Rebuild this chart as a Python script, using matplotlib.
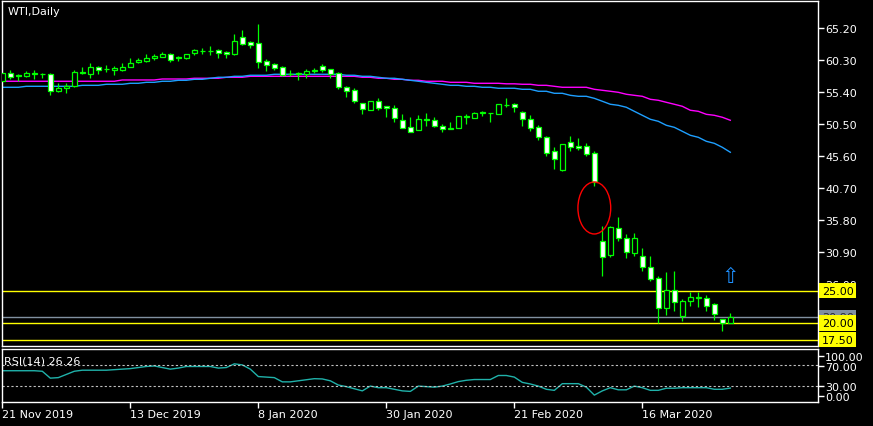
import matplotlib
matplotlib.use('Agg')
import matplotlib.pyplot as plt
from matplotlib.patches import Ellipse

# daily WTI candles, 21 Nov 2019 .. 31 Mar 2020 (one entry per trading day)
opens = [
    57.13, 58.31, 58.00, 57.80, 58.11, 58.23, 58.11, 55.51, 55.97, 56.27,
    58.31, 58.20, 59.18, 58.87, 58.77, 58.77, 59.27, 59.95, 60.15, 60.56,
    60.80, 61.22, 60.71, 60.65, 61.33, 61.63, 61.68, 61.83, 61.48, 61.26,
    63.78, 63.06, 62.90, 60.15, 59.69, 59.18, 58.16, 58.26, 58.20, 58.66,
    59.33, 58.92, 58.31, 56.12, 55.66, 53.67, 52.69, 53.98, 53.21, 52.90,
    51.07, 49.99, 49.53, 51.19, 51.07, 50.15, 49.78, 49.93, 51.62, 51.46,
    52.21, 52.14, 52.08, 53.42, 53.52, 52.29, 51.22, 49.99, 48.46, 46.32,
    43.50, 47.70, 47.08, 47.08, 46.01, 32.54, 30.49, 34.53, 33.00, 30.70,
    30.24, 28.56, 26.87, 22.28, 25.13, 21.05, 23.44, 23.93, 23.81, 22.89,
    20.64, 20.03]
highs = [
    58.50, 58.77, 58.16, 58.61, 58.77, 58.26, 58.31, 56.78, 56.78, 58.77,
    59.23, 59.84, 59.38, 59.53, 59.43, 59.84, 60.56, 60.56, 61.22, 61.22,
    61.48, 61.37, 60.96, 61.22, 61.98, 62.14, 62.40, 61.98, 61.68, 64.33,
    64.89, 63.21, 65.81, 60.45, 59.79, 59.43, 58.81, 58.51, 58.92, 59.07,
    59.69, 58.92, 58.51, 56.27, 55.97, 53.67, 53.98, 54.48, 53.30, 53.41,
    52.03, 51.57, 51.88, 52.18, 51.53, 50.50, 50.76, 51.68, 52.03, 52.29,
    52.49, 52.18, 53.52, 54.48, 53.71, 52.44, 51.88, 50.35, 48.71, 46.93,
    47.39, 48.62, 48.31, 47.59, 46.32, 34.83, 34.93, 36.21, 33.66, 33.76,
    31.51, 30.24, 27.27, 27.79, 27.99, 23.70, 24.73, 24.73, 24.32, 23.09,
    20.64, 21.56]
lows = [
    56.90, 57.39, 57.13, 57.70, 57.39, 57.54, 54.99, 55.35, 55.29, 56.12,
    58.11, 57.54, 58.16, 58.46, 58.05, 58.61, 59.27, 59.79, 59.95, 60.30,
    60.71, 60.04, 60.10, 60.45, 61.11, 61.22, 61.07, 60.61, 60.61, 61.11,
    62.64, 62.14, 59.07, 58.66, 58.81, 57.80, 57.80, 57.28, 57.54, 58.31,
    58.51, 57.54, 55.86, 54.68, 53.76, 52.03, 52.69, 52.64, 51.62, 50.85,
    49.84, 49.23, 49.53, 50.24, 50.09, 49.32, 49.69, 49.93, 50.50, 51.37,
    51.77, 50.85, 51.98, 53.15, 52.38, 50.24, 49.47, 48.09, 45.65, 43.65,
    43.35, 46.32, 46.52, 45.55, 40.96, 27.27, 30.09, 32.54, 29.93, 30.24,
    28.04, 26.51, 20.03, 21.25, 21.91, 20.38, 22.68, 22.52, 21.91, 20.53,
    18.85, 20.03]
closes = [
    58.31, 57.74, 57.85, 58.31, 58.26, 58.16, 55.51, 55.97, 56.27, 58.42,
    58.46, 59.18, 58.77, 58.97, 59.07, 59.23, 59.79, 60.30, 60.56, 60.96,
    61.22, 60.35, 60.65, 61.22, 61.83, 61.72, 61.72, 61.33, 61.17, 63.21,
    62.80, 62.64, 59.95, 59.58, 59.12, 58.05, 58.11, 58.20, 58.61, 58.72,
    58.81, 58.20, 56.12, 55.60, 54.07, 52.75, 53.98, 52.95, 52.90, 51.46,
    49.84, 49.32, 51.22, 51.13, 50.24, 49.69, 49.84, 51.68, 51.65, 52.14,
    52.26, 52.17, 53.52, 53.47, 53.15, 51.22, 49.84, 48.46, 46.11, 45.09,
    47.39, 46.93, 46.78, 45.91, 41.57, 30.09, 34.68, 33.00, 30.85, 33.00,
    28.56, 26.72, 22.28, 25.13, 23.20, 23.40, 23.96, 23.96, 22.68, 21.45,
    20.03, 20.90]

ma_blue = [
    56.12, 56.12, 56.12, 56.27, 56.27, 56.27, 56.27, 56.27, 56.27, 56.27,
    56.42, 56.42, 56.42, 56.58, 56.58, 56.58, 56.73, 56.73, 56.88, 56.88,
    57.04, 57.04, 57.19, 57.19, 57.34, 57.34, 57.50, 57.65, 57.65, 57.80,
    57.80, 57.96, 57.96, 57.96, 58.11, 58.11, 58.11, 58.11, 58.11, 58.11,
    58.11, 58.11, 58.11, 57.96, 57.96, 57.80, 57.80, 57.65, 57.50, 57.50,
    57.34, 57.19, 57.04, 56.88, 56.73, 56.58, 56.42, 56.42, 56.27, 56.27,
    56.12, 56.12, 55.97, 55.97, 55.97, 55.81, 55.81, 55.51, 55.51, 55.20,
    55.20, 54.89, 54.74, 54.74, 54.43, 53.98, 53.52, 53.36, 53.06, 52.44,
    51.83, 51.22, 50.91, 50.30, 49.99, 49.38, 48.77, 48.46, 47.85, 47.54,
    46.93, 46.17]
ma_magenta = [
    57.04, 57.04, 57.04, 57.04, 57.04, 57.04, 57.04, 57.04, 57.04, 57.04,
    57.04, 57.04, 57.04, 57.04, 57.04, 57.24, 57.24, 57.24, 57.24, 57.24,
    57.39, 57.39, 57.39, 57.39, 57.50, 57.50, 57.50, 57.50, 57.65, 57.65,
    57.65, 57.80, 57.80, 57.80, 57.80, 57.80, 57.80, 57.80, 57.80, 57.80,
    57.80, 57.80, 57.80, 57.80, 57.80, 57.65, 57.65, 57.50, 57.50, 57.34,
    57.34, 57.19, 57.19, 57.04, 57.04, 57.04, 56.88, 56.88, 56.88, 56.73,
    56.73, 56.73, 56.73, 56.65, 56.65, 56.58, 56.58, 56.42, 56.42, 56.27,
    56.12, 56.12, 56.12, 56.12, 55.81, 55.66, 55.51, 55.35, 55.05, 54.89,
    54.74, 54.28, 54.13, 53.82, 53.52, 53.21, 52.60, 52.44, 51.98, 51.83,
    51.53, 51.07]

rsi = [
    59, 59, 59, 59, 59, 58, 45, 46, 52, 58,
    60, 60, 60, 60, 61, 62, 63, 65, 67, 68,
    65, 62, 64, 67, 67, 67, 67, 64, 65, 72,
    70, 62, 48, 47, 46, 38, 38, 40, 42, 44,
    43.5, 40, 32, 29, 25, 21, 30, 27, 27, 24,
    21, 20, 30, 29, 28, 30, 34, 38.5, 41, 42.4,
    42.4, 42.4, 50, 50, 47, 37, 34, 30, 24, 22,
    34.6, 34.6, 34.6, 28, 13, 21, 27, 23, 23, 30,
    27, 22, 22, 26, 26, 27, 27, 27, 27, 24,
    24, 26.26]

price_ticks = [65.20, 60.30, 55.40, 50.50, 45.60, 40.70, 35.80, 30.90, 26.00]
levels = [25.00, 20.00, 17.50]
bid = 20.90
date_pos = [0, 16, 32, 48, 64, 80]
date_labels = ['21 Nov 2019', '13 Dec 2019', '8 Jan 2020', '30 Jan 2020', '21 Feb 2020', '16 Mar 2020']

W, H = 873, 427
lime = '#00FF00'
fig = plt.figure(figsize=(W / 100, H / 100), dpi=100, facecolor='black')
ax = fig.add_axes([2 / W, 1 - 347 / H, 816 / W, 345 / H], facecolor='black')
rax = fig.add_axes([2 / W, 1 - 403 / H, 816 / W, 53 / H], facecolor='black')

x = list(range(len(opens)))

# moving averages
ax.plot(x, ma_magenta, color='#FF00FF', lw=1, zorder=1)
ax.plot(x, ma_blue, color='#1E9FFF', lw=1, zorder=1)

# candles
ax.vlines(x, lows, highs, color=lime, lw=0.9, zorder=2)
faces = ['white' if c < o else 'black' for o, c in zip(opens, closes)]
heights = [max(abs(c - o), 0.03) for o, c in zip(opens, closes)]
bottoms = [min(o, c) for o, c in zip(opens, closes)]
ax.bar(x, heights, bottom=bottoms, width=0.55, color=faces, edgecolor=lime, lw=0.9, zorder=3)

# horizontal levels
for lv in levels:
    ax.axhline(lv, color='#FFFF00', lw=1, zorder=1)
ax.axhline(bid, color='#8090A0', lw=1, zorder=1)

ax.add_patch(Ellipse((74, 37.64), 4.1, 7.96, fill=False, edgecolor='red', lw=1, zorder=4))
ax.text(91, 27.3, '\u21e7', color='#1E90FF', fontsize=15, ha='center', va='center', zorder=4)

ax.set_xlim(-0.04, 101.96)
ax.set_ylim(16.51, 69.33)
ax.set_yticks(price_ticks)
ax.set_yticklabels(['%.2f' % p for p in price_ticks])
ax.yaxis.tick_right()
ax.tick_params(axis='y', colors='white', labelcolor='white', length=4, width=1, pad=1, labelsize=8)
ax.tick_params(axis='x', bottom=False, labelbottom=False)

tr = ax.get_yaxis_transform()
ax.text(1.0045, bid, '%.2f' % bid, transform=tr, color='#2a2a2a', fontsize=8, va='center', ha='left',
        clip_on=False, zorder=5, bbox=dict(boxstyle='square,pad=0.25', fc='#8090A0', ec='none'))
for lv in levels:
    ax.text(1.0045, lv, '%.2f' % lv, transform=tr, color='black', fontsize=8, va='center', ha='left',
            clip_on=False, zorder=6, bbox=dict(boxstyle='square,pad=0.25', fc='#FFFF00', ec='none'))

# RSI panel
rax.plot(x, rsi, color='lightseagreen', lw=1)
rax.axhline(70, color='#C0C0C0', lw=0.8, linestyle=(0, (2, 2)))
rax.axhline(30, color='#C0C0C0', lw=0.8, linestyle=(0, (2, 2)))
rax.set_xlim(-0.04, 101.96)
rax.set_ylim(0, 100)
rax.set_yticks([87, 68, 30, 11])
rax.set_yticklabels(['100.00', '70.00', '30.00', '0.00'])
rax.yaxis.tick_right()
rax.tick_params(axis='y', colors='white', labelcolor='white', length=4, width=1, pad=1, labelsize=8)
rax.set_xticks(date_pos)
rax.set_xticklabels(date_labels, ha='left')
rax.tick_params(axis='x', colors='white', labelcolor='white', length=4, width=1, pad=1, labelsize=8)

for a in (ax, rax):
    for s in a.spines.values():
        s.set_color('white')
        s.set_linewidth(1)

fig.text(8 / W, 1 - 12 / H, 'WTI,Daily', color='white', fontsize=8, va='center')
fig.text(4 / W, 1 - 362 / H, 'RSI(14) 26.26', color='white', fontsize=8, va='center')

fig.savefig('out.png', dpi=100, facecolor='black')
